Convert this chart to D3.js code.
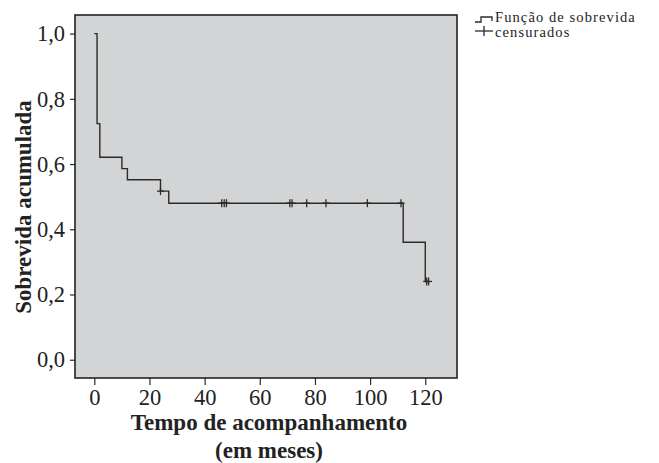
<!DOCTYPE html>
<html>
<head>
<meta charset="utf-8">
<script src="https://cdn.jsdelivr.net/npm/d3@7"></script>
<style>
  body { margin: 0; background: #fff; }
  svg { display: block; font-family: "Liberation Serif", "DejaVu Serif", serif; }
</style>
</head>
<body>
<svg width="659" height="463"></svg>
<script>
// Dados (Kaplan-Meier)
const tempos = [0, 1, 2, 10, 12, 24, 27, 112, 120];
const sobrevida = [1.0, 0.724, 0.621, 0.586, 0.552, 0.517, 0.480, 0.360, 0.240];
const tempoFinal = 121.2;
const censuradosT = [24, 46.2, 47.1, 47.9, 70.9, 71.7, 77, 84, 99, 111.2, 120.5, 121.2];
const censuradosS = [0.517, 0.48, 0.48, 0.48, 0.48, 0.48, 0.48, 0.48, 0.48, 0.48, 0.24, 0.24];
const xTicks = [0, 20, 40, 60, 80, 100, 120];
const yTicks = [0, 0.2, 0.4, 0.6, 0.8, 1.0];

const svg = d3.select("svg");
const corLinha = "#2b2b2b";

const x = d3.scaleLinear().domain([-7, 131.5]).range([75, 457]);
const y = d3.scaleLinear().domain([-0.056, 1.057]).range([378, 15]);

// Fundo da área do gráfico
svg.append("rect")
  .attr("x", 75).attr("y", 15)
  .attr("width", 382).attr("height", 363)
  .attr("fill", "#d3d4d6");

// Eixos
const fmt = d => d3.format(".1f")(d).replace(".", ",");
const eixoX = svg.append("g")
  .attr("transform", "translate(0,378)")
  .call(d3.axisBottom(x).tickValues(xTicks).tickSize(7).tickPadding(4));
const eixoY = svg.append("g")
  .attr("transform", "translate(75,0)")
  .call(d3.axisLeft(y).tickValues(yTicks).tickFormat(fmt).tickSize(5).tickPadding(5));

[eixoX, eixoY].forEach(g => {
  g.select(".domain").remove();
  g.selectAll("line").attr("stroke", corLinha).attr("stroke-width", 1.2);
  g.selectAll("text")
    .attr("fill", "#222")
    .style("font-size", "22.5px")
    .style("font-family", "'Liberation Serif', serif");
});

// Curva de sobrevida (degraus)
const pontos = tempos.map((t, i) => [t, sobrevida[i]]);
pontos.push([tempoFinal, sobrevida[sobrevida.length - 1]]);

const linha = d3.line()
  .x(d => x(d[0]))
  .y(d => y(d[1]))
  .curve(d3.curveStepAfter);

svg.append("path")
  .datum(pontos)
  .attr("d", linha)
  .attr("fill", "none")
  .attr("stroke", corLinha)
  .attr("stroke-width", 1.4);

// Marcas de censura
const censuras = svg.append("g")
  .selectAll("g")
  .data(censuradosT.map((t, i) => [t, censuradosS[i]]))
  .join("g")
  .attr("transform", d => `translate(${x(d[0])},${y(d[1])})`);
censuras.append("line")
  .attr("x1", 0).attr("x2", 0).attr("y1", -4).attr("y2", 4)
  .attr("stroke", corLinha).attr("stroke-width", 1.3);
censuras.append("line")
  .attr("x1", -3.5).attr("x2", 3.5).attr("y1", 0).attr("y2", 0)
  .attr("stroke", corLinha).attr("stroke-width", 1.3);

// Moldura
svg.append("rect")
  .attr("x", 75).attr("y", 15)
  .attr("width", 382).attr("height", 363)
  .attr("fill", "none")
  .attr("stroke", "#222")
  .attr("stroke-width", 1.6);

// Títulos dos eixos
const titulo = (sel) => sel
  .attr("text-anchor", "middle")
  .style("font-size", "23px").style("font-weight", "bold")
  .attr("fill", "#222");
svg.append("text").call(titulo)
  .attr("x", 269).attr("y", 430)
  .text("Tempo de acompanhamento");
svg.append("text").call(titulo)
  .attr("x", 269).attr("y", 458)
  .text("(em meses)");
svg.append("text").call(titulo)
  .attr("transform", "translate(31,207) rotate(-90)")
  .text("Sobrevida acumulada");

// Legenda
const leg = svg.append("g");
leg.append("path")
  .attr("d", "M475,22H481V17H492V21")
  .attr("fill", "none").attr("stroke", corLinha).attr("stroke-width", 1.3);
leg.append("line")
  .attr("x1", 475).attr("x2", 493).attr("y1", 31).attr("y2", 31)
  .attr("stroke", corLinha).attr("stroke-width", 1.3);
leg.append("line")
  .attr("x1", 484).attr("x2", 484).attr("y1", 26).attr("y2", 36)
  .attr("stroke", corLinha).attr("stroke-width", 1.3);
leg.selectAll("text")
  .data(["Função de sobrevida", "censurados"])
  .join("text")
  .attr("x", 495)
  .attr("y", (d, i) => 22 + i * 15)
  .style("font-size", "14.5px")
  .style("letter-spacing", "1.1px")
  .attr("fill", "#222")
  .text(d => d);
</script>
</body>
</html>
